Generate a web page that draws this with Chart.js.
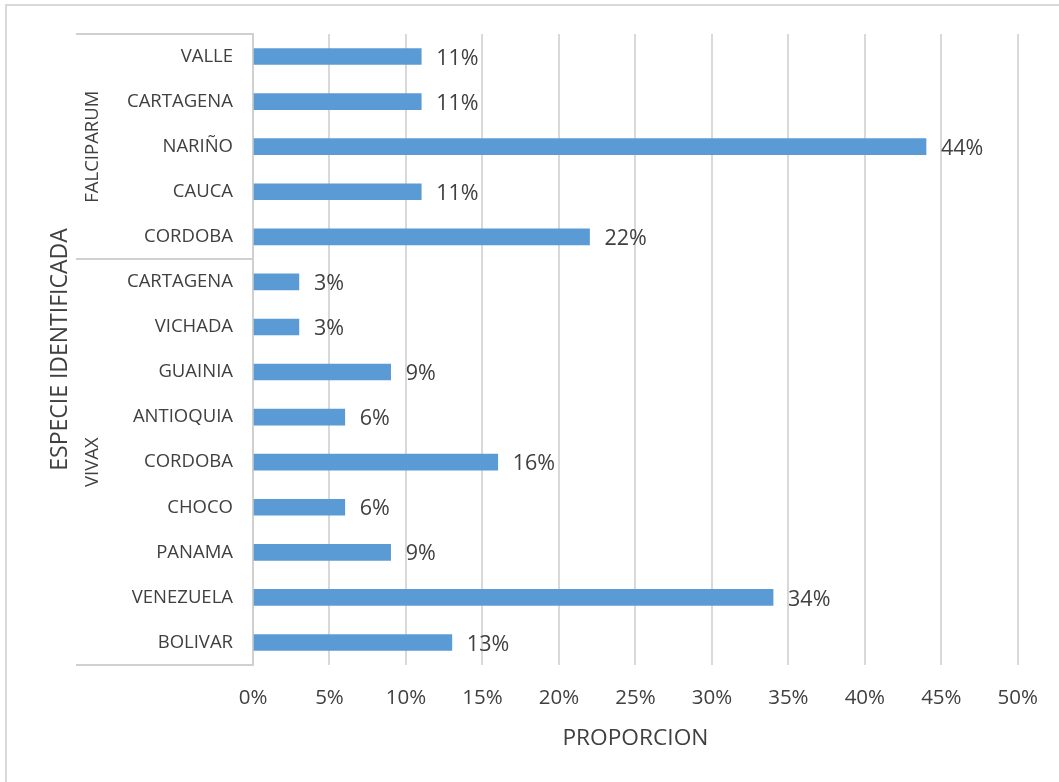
<!DOCTYPE html>
<html>
<head>
<meta charset="utf-8">
<script src="https://cdn.jsdelivr.net/npm/chart.js@4.4.1/dist/chart.umd.min.js"></script>
<style>
  html, body { margin: 0; padding: 0; background: #fff; }
  #wrap { position: relative; width: 1059px; height: 782px; }
  #frame { position: absolute; left: 5px; top: 4px; width: 1100px; height: 800px; border: 2px solid #d9d9d9; box-sizing: border-box; pointer-events: none; }
  canvas { position: absolute; left: 0; top: 0; }
</style>
</head>
<body>
<div id="wrap">
  <canvas id="chart" width="1059" height="782"></canvas>
  <div id="frame"></div>
</div>
<script>
const regions = ["VALLE", "CARTAGENA", "NARIÑO", "CAUCA", "CORDOBA",
  "CARTAGENA", "VICHADA", "GUAINIA", "ANTIOQUIA", "CORDOBA", "CHOCO", "PANAMA", "VENEZUELA", "BOLIVAR"];
const proportions = [11, 11, 44, 11, 22, 3, 3, 9, 6, 16, 6, 9, 34, 13];
const species = ["FALCIPARUM", "VIVAX"];
const speciesCounts = [5, 9];
const xTicks = [0, 5, 10, 15, 20, 25, 30, 35, 40, 45, 50];

const textColor = '#404040';
const fontFamily = '"Open Sans", "DejaVu Sans", sans-serif';

// labels at bar ends, group labels, category box lines, y axis title
Chart.register({
  id: 'excelExtras',
  afterDatasetsDraw: chart => {
    const { ctx } = chart;
    const meta = chart.getDatasetMeta(0);
    ctx.save();
    ctx.fillStyle = textColor;
    ctx.font = '21.5px ' + fontFamily;
    ctx.textAlign = 'left';
    ctx.textBaseline = 'middle';
    meta.data.forEach((bar, i) => {
      ctx.fillText(proportions[i] + '%', bar.x + 15, bar.y + 2);
    });
    ctx.restore();
  },
  afterDraw: chart => {
    const { ctx, chartArea } = chart;
    const yScale = chart.scales.y;
    const boxLeft = 76;
    ctx.save();
    ctx.strokeStyle = '#d0d0d0';
    ctx.lineWidth = 2;
    // boundaries
    const bounds = [chartArea.top];
    let idx = 0;
    speciesCounts.forEach(c => {
      idx += c;
      if (idx < regions.length) {
        bounds.push((yScale.getPixelForValue(idx - 1) + yScale.getPixelForValue(idx)) / 2);
      }
    });
    bounds.push(chartArea.bottom);
    bounds.forEach(y => {
      ctx.beginPath();
      ctx.moveTo(boxLeft, Math.round(y));
      ctx.lineTo(chartArea.left, Math.round(y));
      ctx.stroke();
    });
    // group labels
    ctx.fillStyle = textColor;
    ctx.font = '18.5px ' + fontFamily;
    ctx.textAlign = 'center';
    ctx.textBaseline = 'middle';
    species.forEach((s, i) => {
      const cy = (bounds[i] + bounds[i + 1]) / 2;
      ctx.save();
      ctx.translate(93, cy);
      ctx.rotate(-Math.PI / 2);
      ctx.fillText(s, 0, 0);
      ctx.restore();
    });
    // axis title
    ctx.font = '23px ' + fontFamily;
    ctx.save();
    ctx.translate(60, (chartArea.top + chartArea.bottom) / 2);
    ctx.rotate(-Math.PI / 2);
    ctx.fillText('ESPECIE IDENTIFICADA', 0, 0);
    ctx.restore();
    ctx.restore();
  }
});

new Chart(document.getElementById('chart'), {
  type: 'bar',
  data: {
    labels: regions,
    datasets: [{
      data: proportions,
      backgroundColor: '#5b9bd5',
      barThickness: 16
    }]
  },
  options: {
    indexAxis: 'y',
    responsive: false,
    animation: false,
    layout: { padding: { top: 34, right: 40, left: 0, bottom: 0 } },
    plugins: {
      legend: { display: false },
      tooltip: { enabled: false }
    },
    scales: {
      x: {
        min: 0,
        max: 50,
        afterBuildTicks: scale => { scale.ticks = xTicks.map(v => ({ value: v })); },
        afterFit: scale => { scale.height = 117; },
        grid: { color: '#d9d9d9', lineWidth: 2, drawTicks: false },
        border: { display: false },
        ticks: {
          padding: 21,
          color: textColor,
          font: { family: fontFamily, size: 20.5 },
          callback: v => v + '%'
        },
        title: {
          display: true,
          text: 'PROPORCION',
          color: textColor,
          font: { family: fontFamily, size: 22.7 },
          padding: { top: 4, bottom: 30 }
        }
      },
      y: {
        afterFit: scale => { scale.width = 253; },
        grid: { display: false, drawTicks: false },
        border: { display: true, color: '#d0d0d0', width: 2 },
        ticks: {
          padding: 20,
          color: textColor,
          font: { family: fontFamily, size: 18.5 }
        }
      }
    }
  }
});
</script>
</body>
</html>
